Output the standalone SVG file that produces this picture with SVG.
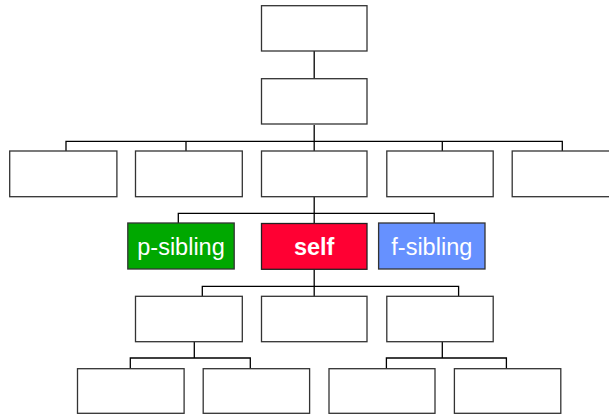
<svg xmlns="http://www.w3.org/2000/svg" width="609" height="414" viewBox="0 0 609 414">
<style>
.box{fill:#fff;stroke:#333;stroke-width:1.3}
.c{fill:none;stroke:#000;stroke-width:1.3}
.lbl{font-family:"Liberation Sans",Arial,sans-serif;font-size:23.5px;fill:#fff;text-anchor:middle}
</style>
<rect width="609" height="414" fill="#fff"/>
<g id="connectors" class="c">
<path d="M314.2 51V78.7"/>
<path d="M314.2 125V153"/>
<path d="M66 151V141.3H562.3V151"/>
<path d="M186 141.3V151"/>
<path d="M442.3 141.3V151"/>
<path d="M314.2 197V225"/>
<path d="M178.3 223V213.3H434.2V223"/>
<path d="M314.2 269.3V296.5"/>
<path d="M202.3 296.3V286.3H458.6V296.3"/>
<path d="M194.3 341.7V358"/>
<path d="M130.3 368.7V358H250.3V368.7"/>
<path d="M442.3 341.7V358"/>
<path d="M386.4 368.7V358H506.4V368.7"/>
</g>
<g id="root"><rect class="box" x="261.5" y="5.7" width="105.5" height="45.3"/></g>
<g id="parent"><rect class="box" x="261.5" y="78.7" width="105.5" height="45.3"/></g>
<g id="u1"><rect class="box" x="9.7" y="151" width="107.2" height="45.7"/></g>
<g id="u2"><rect class="box" x="135.5" y="151" width="106.8" height="45.7"/></g>
<g id="u3"><rect class="box" x="261.5" y="151" width="105.5" height="45.7"/></g>
<g id="u4"><rect class="box" x="386.8" y="151" width="106.4" height="45.7"/></g>
<g id="u5"><rect class="box" x="512.2" y="151" width="106.8" height="45.7"/></g>
<g id="p-sibling"><rect x="127.8" y="223" width="106.4" height="46" fill="#00A800" stroke="#333" stroke-width="1.3"/><text class="lbl" x="181" y="255">p-sibling</text></g>
<g id="self"><rect x="261.5" y="223.5" width="105.5" height="45.8" fill="#FF0033" stroke="#222" stroke-width="1.3"/><text class="lbl" x="314.2" y="255" font-weight="bold">self</text></g>
<g id="f-sibling"><rect x="378.6" y="223" width="106.4" height="46" fill="#6691FF" stroke="#333" stroke-width="1.3"/><text class="lbl" x="431.8" y="255">f-sibling</text></g>
<g id="c1"><rect class="box" x="135.5" y="296.3" width="106.8" height="45.4"/></g>
<g id="c2"><rect class="box" x="261.5" y="296.3" width="105.5" height="45.4"/></g>
<g id="c3"><rect class="box" x="386.8" y="296.3" width="106.4" height="45.4"/></g>
<g id="g1"><rect class="box" x="77.5" y="368.7" width="106.6" height="44.6"/></g>
<g id="g2"><rect class="box" x="203.2" y="368.7" width="106.4" height="44.6"/></g>
<g id="g3"><rect class="box" x="329" y="368.7" width="106" height="44.6"/></g>
<g id="g4"><rect class="box" x="454.4" y="368.7" width="106.4" height="44.6"/></g>
</svg>
